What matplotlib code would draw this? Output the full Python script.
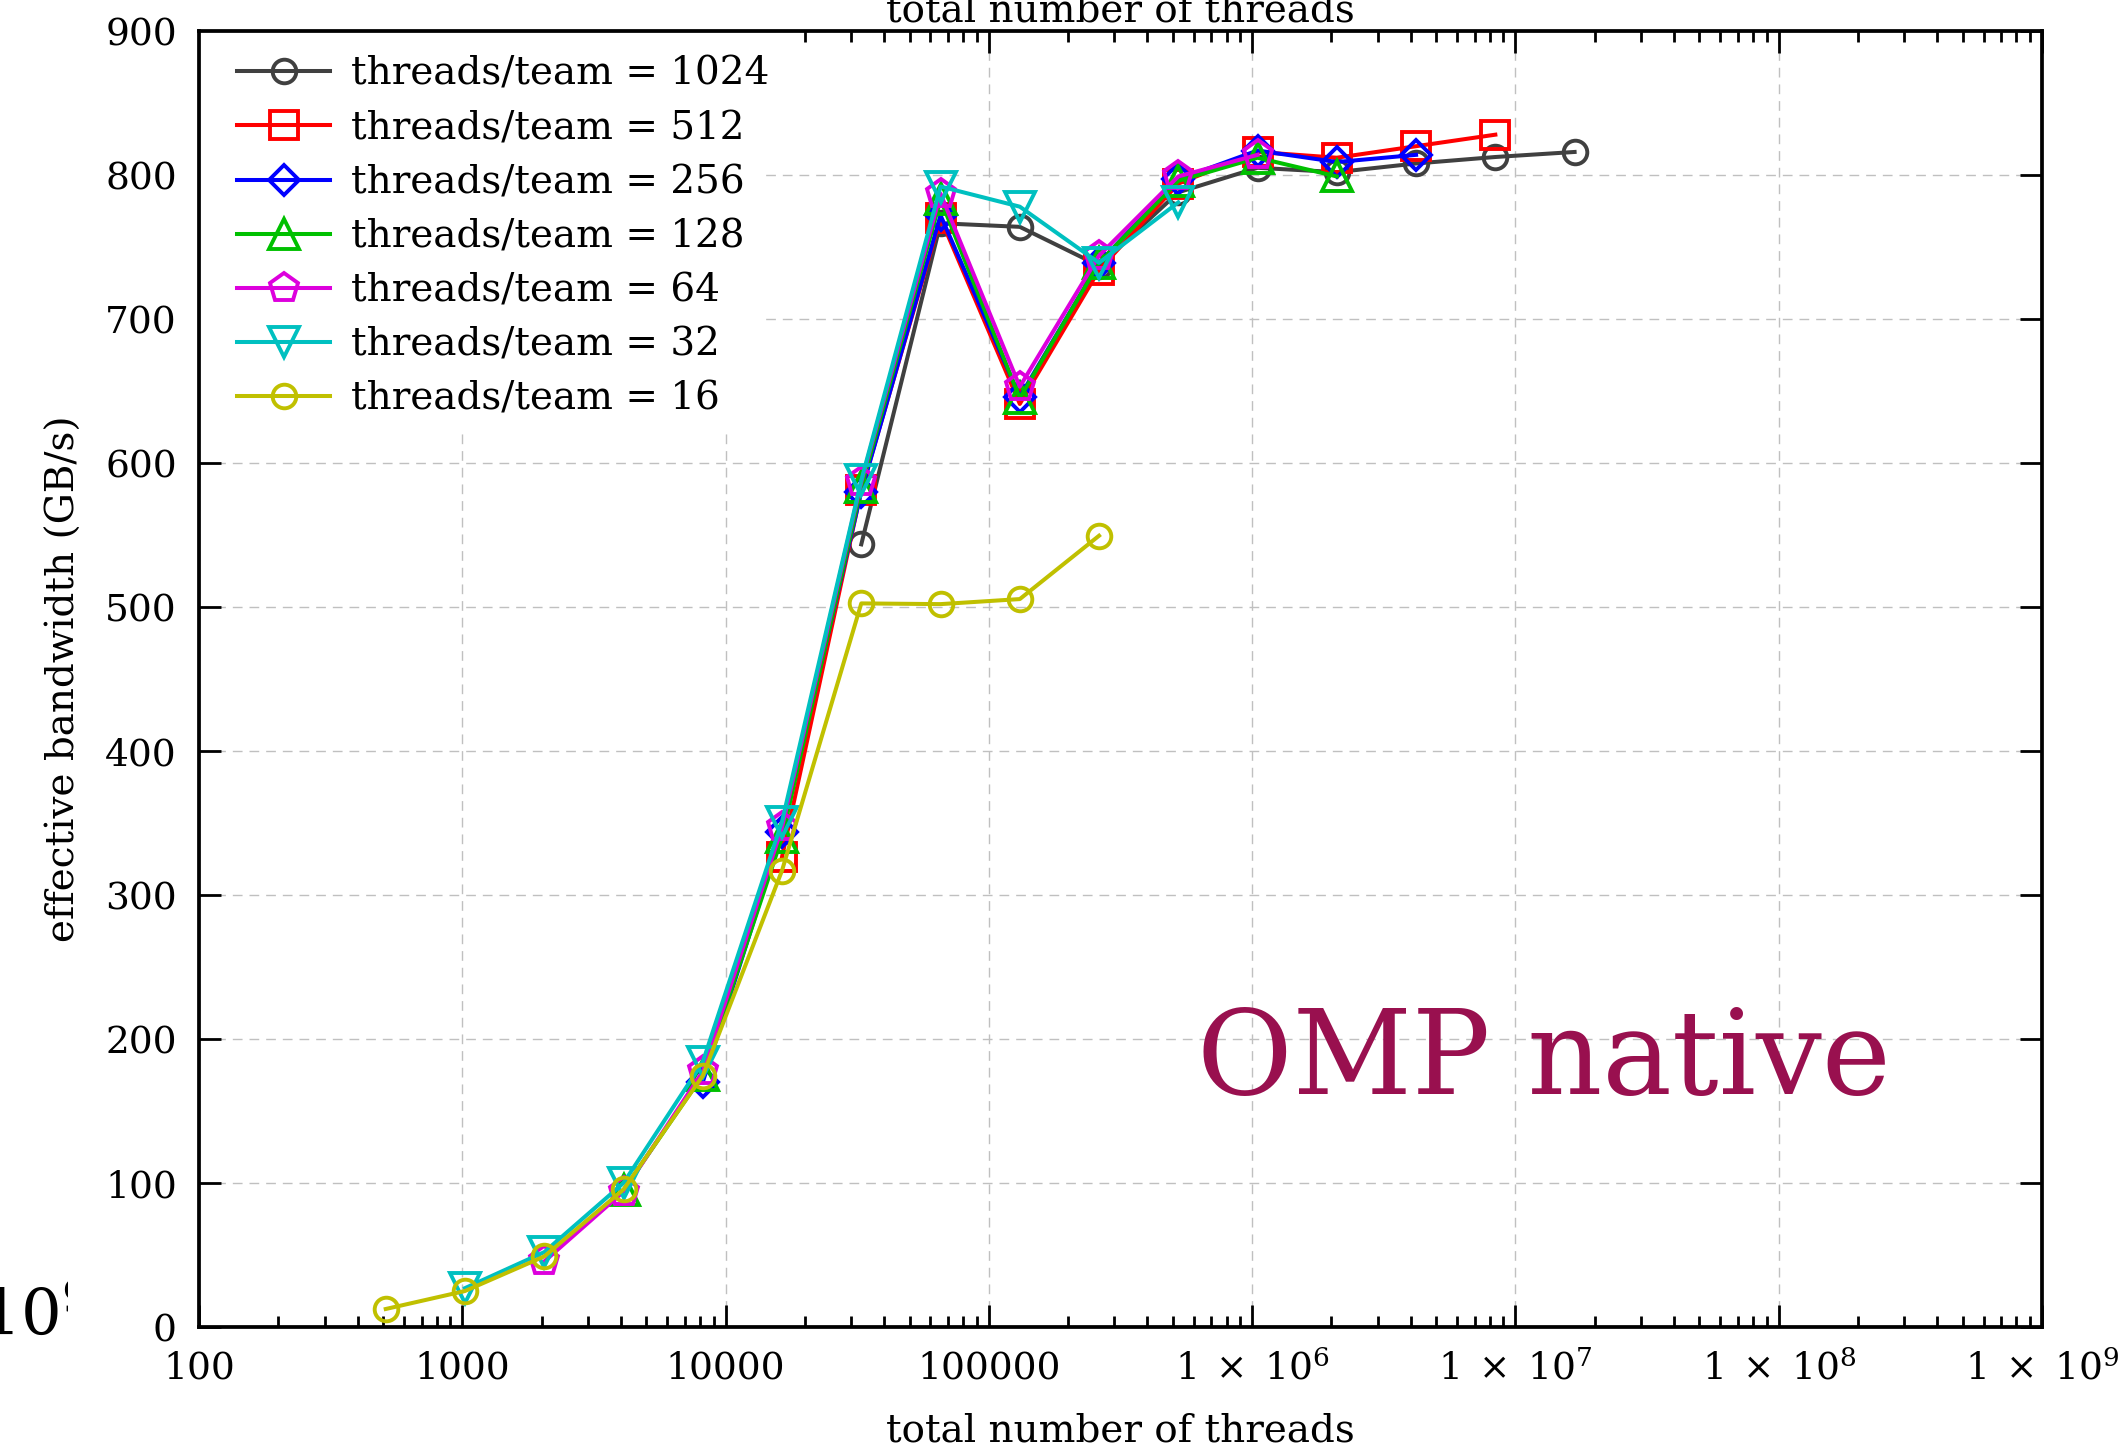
import matplotlib
matplotlib.use("Agg")
import matplotlib.pyplot as plt
from matplotlib import ticker
from matplotlib.patches import Rectangle
from matplotlib.transforms import Bbox, TransformedBbox

# total number of threads (x) shared by all series
total_threads = [512, 1024, 2048, 4096, 8192, 16384, 32768, 65536, 131072,
                 262144, 524288, 1048576, 2097152, 4194304, 8388608, 16777216]

# effective bandwidth (GB/s) per threads/team setting
bw_1024 = [543.5, 766.5, 764, 737, 788, 805, 802, 808, 812.5, 816]
bw_512 = [326.5, 581, 770, 641, 734, 794, 816, 812, 820, 828]
bw_256 = [170, 344, 580, 772, 646, 739, 797, 817, 809, 814]
bw_128 = [95, 175, 340, 583, 783, 645, 739, 796, 812, 799]
bw_64 = [45.5, 94, 177.5, 347, 587, 787, 653, 744, 799, 814]
bw_32 = [27, 52, 100, 184, 351, 588, 792, 778, 739, 781]
bw_16 = [12.5, 25, 49, 95.5, 174.5, 317, 502.5, 502, 505.5, 549.5]

x_1024 = total_threads[6:16]
x_512 = total_threads[5:15]
x_256 = total_threads[4:14]
x_128 = total_threads[3:13]
x_64 = total_threads[2:12]
x_32 = total_threads[1:11]
x_16 = total_threads[0:10]

x_ticks = [1e2, 1e3, 1e4, 1e5, 1e6, 1e7, 1e8, 1e9]
x_ticklabels = ['100', '1000', '10000', '100000',
                r'$1\;\times\;10^{6}$', r'$1\;\times\;10^{7}$',
                r'$1\;\times\;10^{8}$', r'$1\;\times\;10^{9}$']
y_ticks = [0, 100, 200, 300, 400, 500, 600, 700, 800, 900]

plt.rcParams['font.family'] = ['DejaVu Serif']
plt.rcParams['mathtext.fontset'] = 'dejavuserif'

W, H = 2126, 1455
fig = plt.figure(figsize=(W / 100, H / 100), dpi=100)
ax = fig.add_axes([199 / W, 1 - 1327 / H, (2042 - 199) / W, (1327 - 31) / H])

series = [
    (x_1024, bw_1024, 'threads/team = 1024', '#404040', 'o', 17),
    (x_512, bw_512, 'threads/team = 512', '#ff0000', 's', 20),
    (x_256, bw_256, 'threads/team = 256', '#0000ff', 'D', 15),
    (x_128, bw_128, 'threads/team = 128', '#00c000', '^', 21),
    (x_64, bw_64, 'threads/team = 64', '#dd00dd', 'p', 21),
    (x_32, bw_32, 'threads/team = 32', '#00c0c0', 'v', 21),
    (x_16, bw_16, 'threads/team = 16', '#c0c000', 'o', 17),
]
for xs, ys, label, color, marker, ms in series:
    ax.plot(xs, ys, color=color, lw=2.9, marker=marker, ms=ms,
            mew=2.8, fillstyle='none', label=label)

ax.set_xscale('log')
ax.set_xlim(1e2, 1e9)
ax.set_ylim(0, 900)
ax.xaxis.set_major_locator(ticker.FixedLocator(x_ticks))
ax.xaxis.set_major_formatter(ticker.FixedFormatter(x_ticklabels))
ax.xaxis.set_minor_locator(ticker.LogLocator(base=10, subs=range(2, 10), numticks=20))
ax.xaxis.set_minor_formatter(ticker.NullFormatter())
ax.set_yticks(y_ticks)

ax.tick_params(which='both', direction='in', top=True, right=True, width=2, labelsize=27)
ax.tick_params(which='major', length=16)
ax.tick_params(which='minor', length=8)
ax.tick_params(axis='x', pad=17)
ax.tick_params(axis='y', pad=16)
for sp in ax.spines.values():
    sp.set_linewidth(2.7)

ax.grid(True, which='major', linestyle=(0, (7, 5)), color='#c0c0c0', linewidth=1)
ax.set_axisbelow(True)

# white key background hiding the grid
ax.add_patch(Rectangle((0, 0.694), 0.307, 0.306, transform=ax.transAxes,
                       facecolor='white', edgecolor='none', zorder=1.5))
leg = ax.legend(loc='upper left', bbox_to_anchor=(38 / 1843, 1 - 25 / 1296),
                borderaxespad=0, borderpad=0, numpoints=1, handlelength=2.4,
                handletextpad=0.52, labelspacing=0.44, fontsize=28, frameon=False)

fig.text(1120 / W, 1 - 1441 / H, 'total number of threads', ha='center', va='baseline', fontsize=28)
fig.text(1120 / W, 1 - 21 / H, 'total number of threads', ha='center', va='baseline', fontsize=28)
fig.text(64 / W, 1 - 679 / H, 'effective bandwidth (GB/s)', rotation=90,
         ha='center', va='center', fontsize=28)
fig.text(1197 / W, 1 - 1094 / H, 'OMP native', ha='left', va='baseline',
         fontsize=84, color='#99104f')

t = fig.text(-20 / W, 1 - 1317 / H, r'$10^{9}$', ha='left', va='center', fontsize=46)
t.set_clip_box(TransformedBbox(Bbox([[0, 0], [68 / W, 1]]), fig.transFigure))
t.set_clip_on(True)

fig.savefig('out.png', dpi=100)
